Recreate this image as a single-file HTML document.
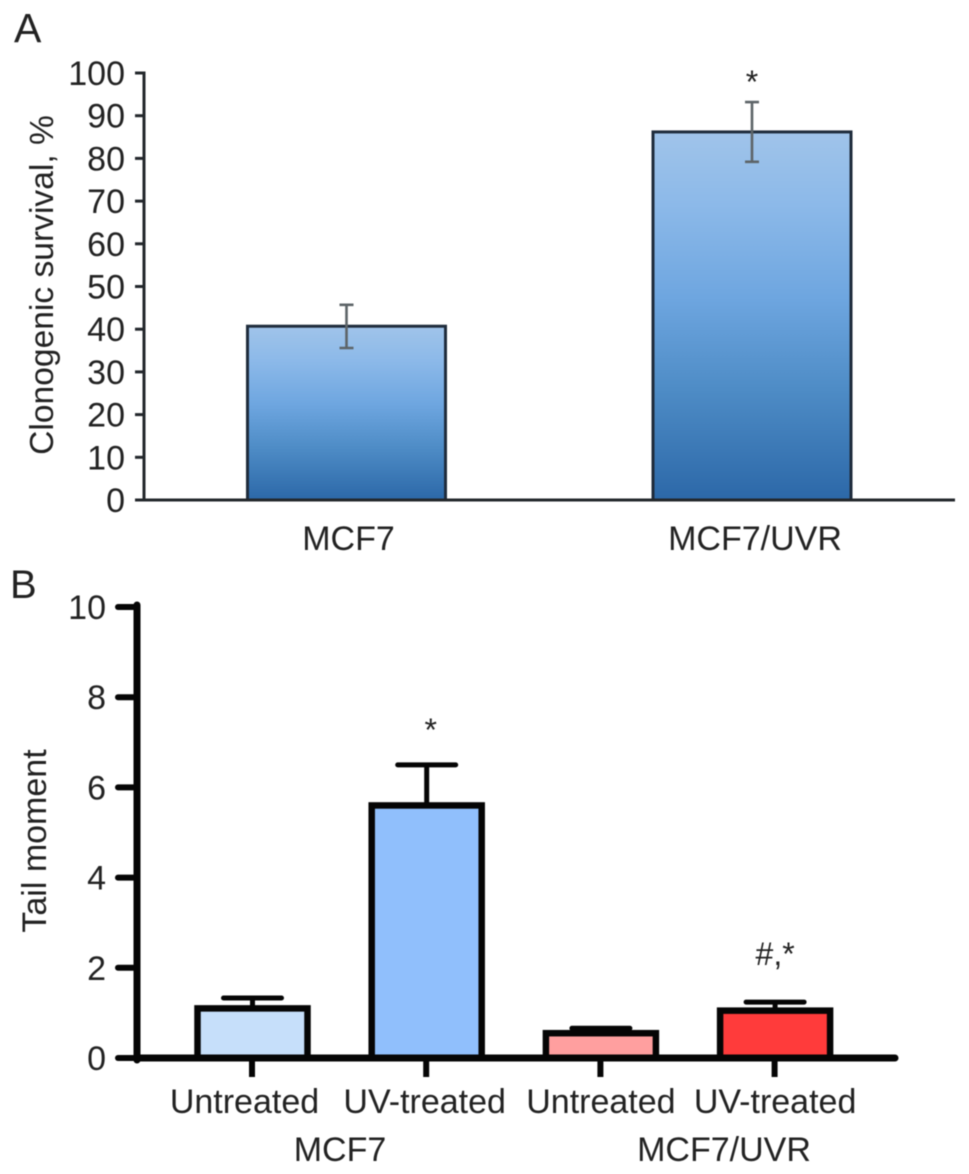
<!DOCTYPE html>
<html lang="en">
<head>
<meta charset="utf-8">
<title>Clonogenic survival and tail moment</title>
<style>
html,body{margin:0;padding:0;background:#fff;}
#fig{display:block;width:969px;height:1174px;filter:blur(0.6px);}
text{font-family:"Liberation Sans",sans-serif;fill:#222;font-size:34px;}
</style>
</head>
<body>
<svg id="fig" xmlns="http://www.w3.org/2000/svg" width="969" height="1174" viewBox="0 0 969 1174">
  <defs>
    <linearGradient id="barGrad" x1="0" y1="0" x2="0" y2="1">
      <stop offset="0" stop-color="#a0c4ea"/>
      <stop offset="0.2" stop-color="#8cb9e9"/>
      <stop offset="0.45" stop-color="#6ea6e0"/>
      <stop offset="0.7" stop-color="#4e8cc6"/>
      <stop offset="1" stop-color="#2c68a8"/>
    </linearGradient>
  </defs>
  <text x="14" y="42" style="font-size:41px">A</text>
  <text x="10" y="598" style="font-size:40px">B</text>
  <text transform="translate(53,285) rotate(-90)" text-anchor="middle" style="font-size:33.6px">Clonogenic survival, %</text>
  <text transform="translate(46,841) rotate(-90)" text-anchor="middle">Tail moment</text>
  <g id="panelA"></g>
  <g id="panelB"></g>
  <text x="340" y="1161" text-anchor="middle">MCF7</text>
  <text x="724" y="1161" text-anchor="middle">MCF7/UVR</text>
</svg>
<script>
const aCategories = ['MCF7', 'MCF7/UVR'];
const aValues = [40.7, 86.2];
const aErrHigh = [45.7, 93.2];
const aErrLow = [35.6, 79.2];
const aMarks = ['', '*'];
const aTicks = [0, 10, 20, 30, 40, 50, 60, 70, 80, 90, 100];

const bCategories = ['Untreated', 'UV-treated', 'Untreated', 'UV-treated'];
const bValues = [1.1, 5.6, 0.55, 1.05];
const bErrHigh = [1.33, 6.5, 0.66, 1.24];
const bMarks = ['', '*', '', '#,*'];
const bColors = ['#c6dffa', '#90bffc', '#ff9f9f', '#ff3b3b'];
const bTicks = [0, 2, 4, 6, 8, 10];

const NS = 'http://www.w3.org/2000/svg';
function make(parent, tag, props, text) {
  const el = document.createElementNS(NS, tag);
  for (const k in props) el.setAttribute(k, props[k]);
  if (text !== undefined) el.textContent = text;
  parent.appendChild(el);
  return el;
}

/* Panel A */
const gA = document.getElementById('panelA');
const yA = v => 500 - v * 4.27;
const xA = i => 346.5 + i * 405.5;
const inkA = '#23272c';

aCategories.forEach((name, i) => {
  const top = yA(aValues[i]);
  const bar = make(gA, 'rect', {x: xA(i) - 99, y: top, width: 198, height: yA(0) - top, fill: 'url(#barGrad)', stroke: '#1f2c3c', 'stroke-width': 3});
  
  
  const cx = xA(i);
  const hi = yA(aErrHigh[i]);
  const lo = yA(aErrLow[i]);
  const err = make(gA, 'path', {d: `M${cx - 7} ${hi}H${cx + 7}M${cx} ${hi}V${lo}M${cx - 7} ${lo}H${cx + 7}`, fill: 'none', stroke: '#5d6468', 'stroke-width': 2.6});
  
  
  const label = make(gA, 'text', {x: xA(i) + (i ? 3 : 2), y: 550, 'text-anchor': 'middle'}, name);
  
  
  if (aMarks[i]) {
    const mark = make(gA, 'text', {x: cx, y: 93, 'text-anchor': 'middle', style: 'font-size:32px'}, aMarks[i]);
    
    
  }
});

aTicks.forEach(t => {
  const tick = make(gA, 'line', {x1: 135, x2: 145, y1: yA(t), y2: yA(t), stroke: inkA, 'stroke-width': 3});
  
  
  const label = make(gA, 'text', {x: 125, y: yA(t) + 12, 'text-anchor': 'end'}, String(t));
  
  
});
const axisYA = make(gA, 'line', {x1: 144, x2: 144, y1: yA(100) - 1.5, y2: yA(0), stroke: inkA, 'stroke-width': 3});


const axisXA = make(gA, 'line', {x1: 135, x2: 955, y1: yA(0), y2: yA(0), stroke: inkA, 'stroke-width': 3});



/* Panel B */
const gB = document.getElementById('panelB');
const yB = v => 1058 - v * 45.1;
const xB = i => 252.5 + i * 174.2;
const ink = '#050505';

bCategories.forEach((name, i) => {
  const cx = xB(i);
  const top = yB(bValues[i]);
  const hi = yB(bErrHigh[i]);
  const err = make(gB, 'path', {d: `M${cx - 29} ${hi}H${cx + 29}M${cx} ${hi}V${top}`, fill: 'none', stroke: ink, 'stroke-width': 5, 'stroke-linecap': 'round'});
  
  
  const bar = make(gB, 'rect', {x: cx - 55, y: top, width: 110, height: yB(0) - top, fill: bColors[i], stroke: ink, 'stroke-width': 6.5});
  
  
  const tick = make(gB, 'line', {x1: cx - 0.5, x2: cx - 0.5, y1: yB(0), y2: 1077, stroke: ink, 'stroke-width': 6});
  
  
  const label = make(gB, 'text', {x: cx - (i === 0 ? 8 : i === 1 ? 2 : 0), y: 1113, 'text-anchor': 'middle'}, name);
  
  
  if (bMarks[i]) {
    const mark = make(gB, 'text', {x: cx + (i === 1 ? 4 : 0), y: i === 1 ? 741 : 965, 'text-anchor': 'middle', style: 'font-size:32px'}, bMarks[i]);
    
    
  }
});

bTicks.forEach(t => {
  const tick = make(gB, 'line', {x1: 118, x2: 137, y1: yB(t), y2: yB(t), stroke: ink, 'stroke-width': 6, 'stroke-linecap': 'round'});
  
  
  const label = make(gB, 'text', {x: 106, y: yB(t) + 12, 'text-anchor': 'end'}, String(t));
  
  
});
const axisYB = make(gB, 'line', {x1: 137, x2: 137, y1: yB(10) - 2, y2: yB(0) + 2, stroke: ink, 'stroke-width': 7, 'stroke-linecap': 'round'});


const axisXB = make(gB, 'line', {x1: 137, x2: 895, y1: yB(0), y2: yB(0), stroke: ink, 'stroke-width': 7, 'stroke-linecap': 'round'});


</script>
</body>
</html>
